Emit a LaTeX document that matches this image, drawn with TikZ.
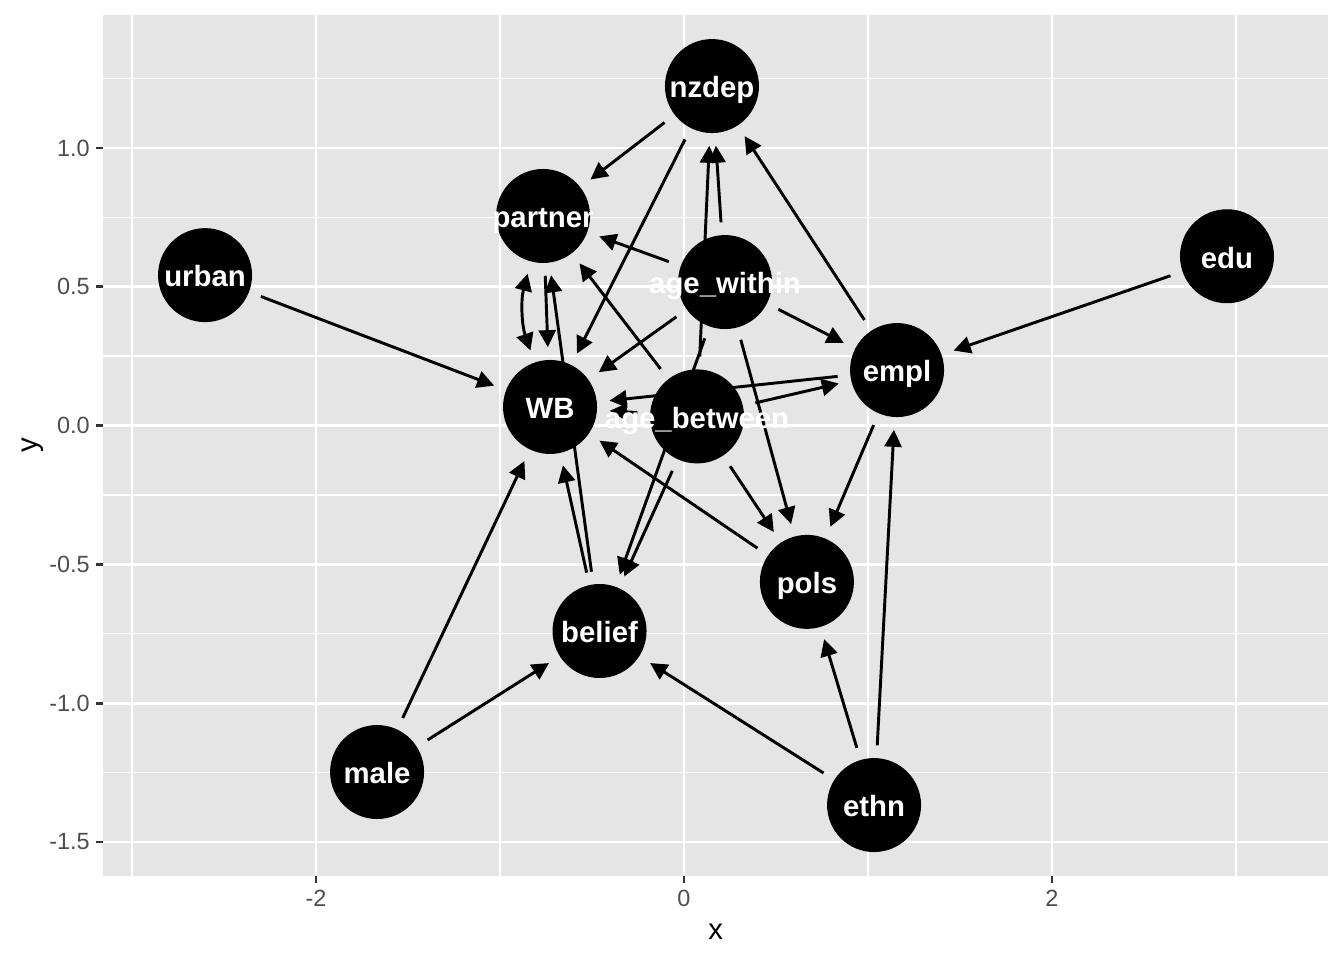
\documentclass[tikz,border=0pt]{standalone}
\usepackage{fontspec}
\setmainfont{Liberation Sans}
\usetikzlibrary{arrows.meta}
\pgfdeclarelayer{bg}
\pgfdeclarelayer{edges}
\pgfsetlayers{bg,edges,main}
\definecolor{panelbg}{HTML}{E5E5E5}
\definecolor{grey30}{HTML}{4D4D4D}
\definecolor{grey20}{HTML}{333333}
\begin{document}
\begin{tikzpicture}[x=69pt,y=104.1pt,
  dagnode/.style={circle,fill=black,minimum size=35.25pt,inner sep=0pt},
  dagtext/.style={text=white,font=\fontsize{11}{13}\selectfont\bfseries,inner sep=0pt,text height=7.9pt,text depth=0pt,yshift=-0.5pt},
  edge/.style={line width=1.1pt,-{Triangle[length=6.4pt,width=6.4pt]},shorten >=4.6pt,shorten <=4.6pt},
  biedge/.style={line width=1.1pt,{Triangle[length=6.4pt,width=6.4pt]}-{Triangle[length=6.4pt,width=6.4pt]},shorten >=4.6pt,shorten <=4.6pt},
  majorgrid/.style={white,line width=1.07pt},
  minorgrid/.style={white,line width=0.53pt},
  tick/.style={grey20,line width=1.07pt},
  ticklabel/.style={text=grey30,font=\fontsize{8.8}{10}\selectfont,inner sep=0pt},
  axtitle/.style={text=black,font=\fontsize{11}{13}\selectfont,inner sep=0pt}]
\useasboundingbox (-3.7174,-1.9251) rectangle (3.5870,1.5331);
\begin{pgfonlayer}{bg}
\fill[panelbg] (-3.1549,-1.6225) rectangle (3.5,1.4791);
\foreach \xx in {-3,-1,1,3} \draw[minorgrid] (\xx,-1.6225) -- (\xx,1.4791);
\foreach \yy in {-1.25,-0.75,-0.25,0.25,0.75,1.25} \draw[minorgrid] (-3.1549,\yy) -- (3.5,\yy);
\foreach \xx in {-2,0,2} \draw[majorgrid] (\xx,-1.6225) -- (\xx,1.4791);
\foreach \yy in {-1.5,-1,-0.5,0,0.5,1} \draw[majorgrid] (-3.1549,\yy) -- (3.5,\yy);
\foreach \xx/\lab in {-2/-2,0/0,2/2} {
  \draw[tick] (\xx,-1.6225) -- ++(0,-2.75pt) coordinate (xt\xx);
  \node[ticklabel,anchor=north] at ([yshift=-2.2pt]xt\xx) {\lab};
}
\foreach \yy/\lab in {-1.5/-1.5,-1/-1.0,-0.5/-0.5,0/0.0,0.5/0.5,1/1.0} {
  \draw[tick] (-3.1549,\yy) -- ++(-2.75pt,0) coordinate (yt);
  \node[ticklabel,anchor=east] at ([xshift=-2.2pt]yt) {\lab};
}
\node[axtitle] (xtitle) at (0.1726,-1.824) {x};
\node[axtitle,rotate=90] (ytitle) at (-3.538,-0.0717) {y};
\end{pgfonlayer}

\node[dagnode] (nzdep) at (0.152,1.223) {};
\node[dagnode] (partner) at (-0.766,0.755) {};
\node[dagnode] (urban) at (-2.603,0.542) {};
\node[dagnode] (agew) at (0.223,0.517) {};
\node[dagnode] (edu) at (2.951,0.610) {};
\node[dagnode] (empl) at (1.158,0.200) {};
\node[dagnode] (WB) at (-0.728,0.067) {};
\node[dagnode] (ageb) at (0.071,0.033) {};
\node[dagnode] (pols) at (0.668,-0.563) {};
\node[dagnode] (belief) at (-0.459,-0.740) {};
\node[dagnode] (male) at (-1.668,-1.248) {};
\node[dagnode] (ethn) at (1.033,-1.367) {};

\node[dagtext] (tnzdep) at (nzdep) {nzdep};
\node[dagtext] (tpartner) at (partner) {partner};
\node[dagtext] (turban) at (urban) {urban};
\node[dagtext] (tagew) at (agew) {age\_within};
\node[dagtext] (tedu) at (edu) {edu};
\node[dagtext] (templ) at (empl) {empl};
\node[dagtext] (tWB) at (WB) {WB};
\node[dagtext] (tageb) at (ageb) {age\_between};
\node[dagtext] (tpols) at (pols) {pols};
\node[dagtext] (tbelief) at (belief) {belief};
\node[dagtext] (tmale) at (male) {male};
\node[dagtext] (tethn) at (ethn) {ethn};

\begin{pgfonlayer}{edges}
\draw[edge] (nzdep) -- (partner);
\draw[edge] (nzdep) -- (WB);
\draw[edge] (agew) -- (nzdep);
\draw[edge] (ageb) -- (nzdep);
\draw[edge] (empl) -- (nzdep);
\draw[edge] (agew) -- (partner);
\draw[edge] (ageb) -- (partner);
\draw[biedge] (partner) to[bend right=17] (WB);
\draw[edge] (partner) -- (WB);
\draw[edge] (belief) -- (partner);
\draw[edge] (urban) -- (WB);
\draw[edge] (agew) -- (WB);
\draw[edge] (empl) -- (WB);
\draw[edge] (ageb) -- (WB);
\draw[edge] (pols) -- (WB);
\draw[edge] (belief) -- (WB);
\draw[edge] (male) -- (WB);
\draw[edge] (agew) -- (empl);
\draw[edge] (ageb) -- (empl);
\draw[edge] (edu) -- (empl);
\draw[edge] (ethn) -- (empl);
\draw[edge] (empl) -- (pols);
\draw[edge] (agew) -- (pols);
\draw[edge] (ageb) -- (pols);
\draw[edge] (ethn) -- (pols);
\draw[edge] (ageb) -- (belief);
\draw[edge] (agew) -- (belief);
\draw[edge] (male) -- (belief);
\draw[edge] (ethn) -- (belief);
\end{pgfonlayer}
\end{tikzpicture}
\end{document}
